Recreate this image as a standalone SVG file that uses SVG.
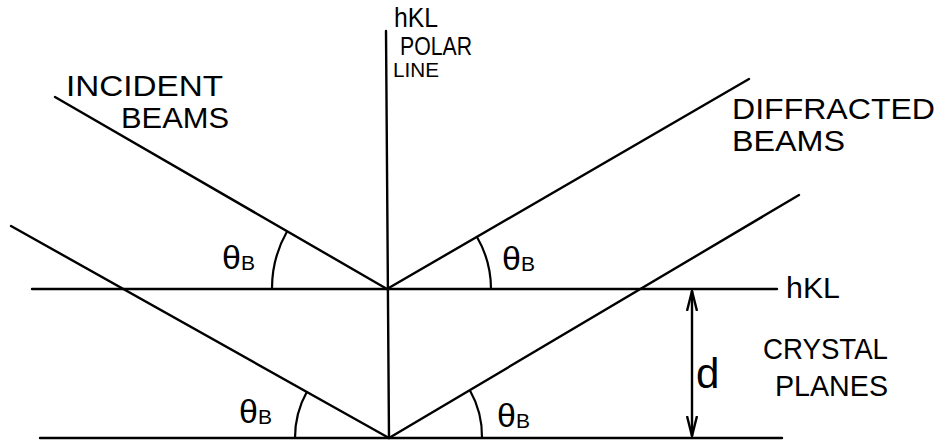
<svg xmlns="http://www.w3.org/2000/svg" width="940" height="442" viewBox="0 0 940 442">
  <style>
    .ln { stroke: #000; stroke-width: 2.4; fill: none; stroke-linecap: round; }
    .arc { stroke: #000; stroke-width: 2.2; fill: none; }
    .lbl { font-family: "Liberation Sans", "DejaVu Sans", sans-serif; font-size: 29px; fill: #000; }
    .th { font-family: "Liberation Sans", "DejaVu Sans", sans-serif; font-size: 34px; fill: #000; }
    .sub { font-size: 21px; }
  </style>
  <defs>
    <marker id="ah" viewBox="0 0 20 12" refX="20" refY="6" markerWidth="20" markerHeight="12" markerUnits="userSpaceOnUse" orient="auto-start-reverse">
      <path d="M0,1 L20,6 L0,11" fill="none" stroke="#000" stroke-width="2.4"/>
    </marker>
  </defs>
  <rect width="940" height="442" fill="#fff"/>

  <g id="connectors">
    <!-- hkl polar line -->
    <line class="ln" x1="386" y1="31" x2="389" y2="438"/>
    <!-- crystal planes -->
    <line class="ln" x1="32" y1="289" x2="777" y2="289"/>
    <line class="ln" x1="40" y1="438" x2="782" y2="438"/>
    <!-- incident beams -->
    <line class="ln" x1="55" y1="97" x2="387" y2="289"/>
    <line class="ln" x1="11" y1="226" x2="389" y2="438"/>
    <!-- diffracted beams -->
    <line class="ln" x1="387" y1="289" x2="749" y2="79"/>
    <line class="ln" x1="389" y1="438" x2="799" y2="195"/>
    <!-- d spacing arrow -->
    <line class="ln" x1="692" y1="291" x2="692" y2="436" marker-start="url(#ah)" marker-end="url(#ah)"/>
    <!-- angle arcs -->
    <path class="arc" d="M287,231.5 A115,115 0 0 0 272,289"/>
    <path class="arc" d="M477,237 A104,104 0 0 1 491,289"/>
    <path class="arc" d="M307,391.5 A95,95 0 0 0 295,438"/>
    <path class="arc" d="M470,390.5 A93,93 0 0 1 482,438"/>
  </g>

  <g id="label-polar">
    <text class="lbl" x="394" y="27" style="font-size:27px" textLength="44" lengthAdjust="spacingAndGlyphs">hKL</text>
    <text class="lbl" x="400" y="55" style="font-size:25px" textLength="72" lengthAdjust="spacingAndGlyphs">POLAR</text>
    <text class="lbl" x="393" y="77" style="font-size:20px" textLength="46" lengthAdjust="spacingAndGlyphs">LINE</text>
  </g>
  <g id="label-incident">
    <text class="lbl" x="66" y="96" textLength="157" lengthAdjust="spacingAndGlyphs">INCIDENT</text>
    <text class="lbl" x="121" y="128" textLength="108" lengthAdjust="spacingAndGlyphs">BEAMS</text>
  </g>
  <g id="label-diffracted">
    <text class="lbl" x="732" y="119" textLength="203" lengthAdjust="spacingAndGlyphs">DIFFRACTED</text>
    <text class="lbl" x="732" y="151" textLength="113" lengthAdjust="spacingAndGlyphs">BEAMS</text>
  </g>
  <g id="label-hkl">
    <text class="lbl" x="786" y="298" textLength="54" lengthAdjust="spacingAndGlyphs">hKL</text>
  </g>
  <g id="label-crystal">
    <text class="lbl" x="763" y="359" textLength="125" lengthAdjust="spacingAndGlyphs">CRYSTAL</text>
    <text class="lbl" x="775" y="396" textLength="113" lengthAdjust="spacingAndGlyphs">PLANES</text>
  </g>
  <g id="label-d">
    <text class="lbl" x="696" y="388" style="font-size:42px">d</text>
  </g>
  <g id="angles">
    <text class="th" x="222" y="269">θ<tspan class="sub" dy="1">B</tspan></text>
    <text class="th" x="502" y="270">θ<tspan class="sub" dy="1">B</tspan></text>
    <text class="th" x="239" y="423">θ<tspan class="sub" dy="1">B</tspan></text>
    <text class="th" x="497" y="427">θ<tspan class="sub" dy="1">B</tspan></text>
  </g>
</svg>
